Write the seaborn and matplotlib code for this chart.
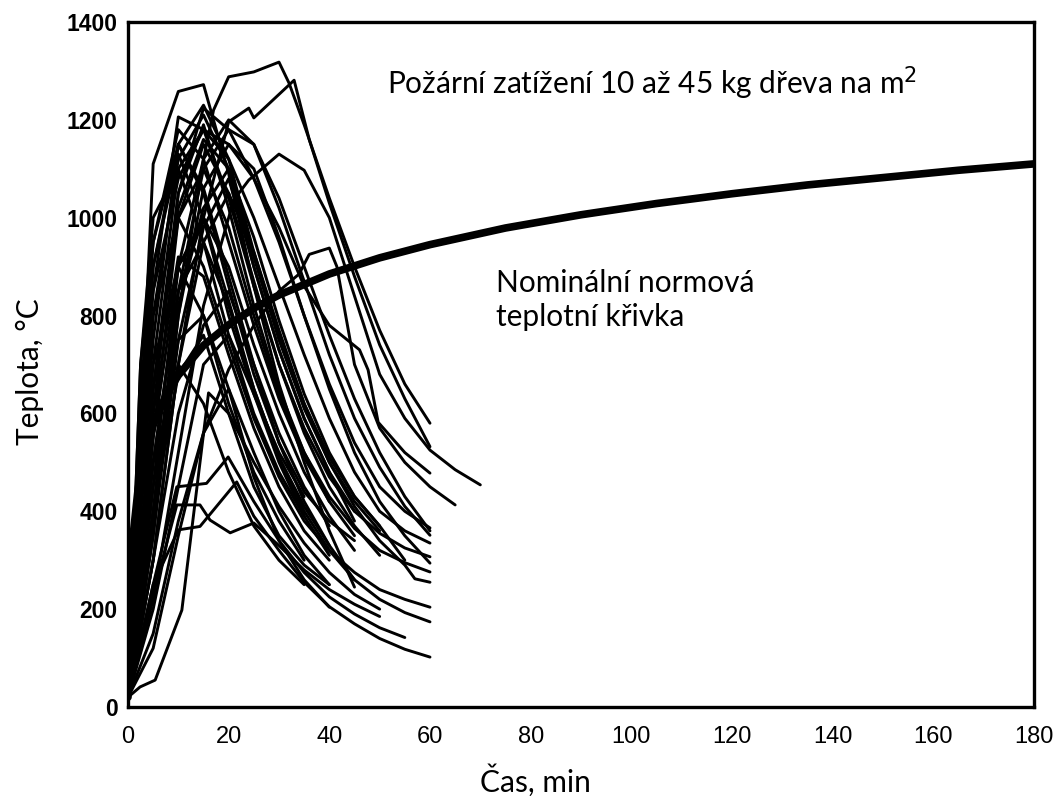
import pandas as pd
import seaborn as sns
import matplotlib.pyplot as plt

# nominal (standard) temperature curve
iso_t = [0, 1, 2, 3, 5, 7.5, 10, 15, 20, 25, 30, 40, 50, 60, 75, 90, 105, 120, 135, 150, 165, 180]
iso_T = [20, 349, 445, 502, 576, 636, 678, 739, 781, 815, 842, 885, 918, 945, 979, 1006, 1029, 1049, 1067, 1082, 1097, 1110]

# measured fire curves (time in min, temperature in deg C)
fire_t = [
    [0, 2, 5, 10, 15, 20, 25, 30, 35, 40, 45],
    [0, 5, 10, 15, 17, 20, 25, 30, 32, 35, 40, 45, 50, 55, 60],
    [0, 5, 10, 15, 20, 24, 25, 33, 36, 40, 45, 50, 55, 60],
    [0, 5, 10, 15, 21, 24, 30, 35, 40, 45, 50, 55, 60, 65, 70],
    [0, 5, 10, 15, 20, 25, 30, 34, 36, 40, 41.5, 45, 50, 55, 60, 65],
    [0, 2.5, 5, 10, 15, 20, 25, 30, 35, 40, 46, 47.7, 49.7, 55, 60],
    [0, 2.5, 5, 10, 15, 20, 25, 30, 35, 40, 45, 50, 55, 60],
    [0, 2.5, 5, 10, 15, 20, 25, 30, 35, 40, 45, 50, 55, 60],
    [0, 5, 10, 15, 20, 25, 30, 35, 40, 45, 50, 55, 60],
    [0, 2.5, 5, 10, 15, 20, 25, 30, 35, 40, 45, 50, 55, 60],
    [0, 5, 10, 15, 20, 25, 30, 35, 40, 45, 50, 55, 60],
    [0, 2.5, 5, 10, 15, 20, 25, 30, 35, 40, 45, 50, 55, 60],
    [0, 5, 10, 15, 20, 25, 30, 35, 40, 45, 50, 55, 57, 60],
    [0, 2.5, 5, 10, 15, 20, 25, 30, 35, 40, 45, 50, 55, 60],
    [0, 5, 10, 15, 20, 25, 30, 35, 40, 45, 50, 55, 60],
    [0, 5, 10, 14.3, 21.6, 25, 30, 35, 40, 45, 50, 55, 60],
    [0, 5, 9.7, 15.6, 19.9, 25, 30, 35, 40, 45, 50, 55],
    [0, 5, 9.7, 14.3, 16.3, 20.3, 25, 30, 35, 40, 45, 50],
    [0, 5, 10, 15, 20, 25, 30, 35, 40],
    [0, 2.4, 5.4, 10.7, 16, 20, 25, 30, 35, 40, 45, 50],
    [0, 2.5, 5, 10, 15, 20, 25, 30, 35, 40],
    [0, 2.5, 5, 10, 15, 20, 25, 30, 35],
    [0, 5, 10, 15, 20, 25, 30, 35, 40, 45],
    [0, 2.5, 5, 10, 15, 20, 25, 30, 35, 40],
    [0, 2.5, 5, 10, 15, 20, 25, 30, 35],
    [0, 5, 10, 15, 20, 25, 30, 35, 40, 45],
    [0, 2.5, 5, 10, 15, 20, 25, 30, 35, 40, 45],
    [0, 5, 10, 15, 20, 25, 30, 35, 40],
    [0, 2.5, 5, 10, 15, 20, 25, 30, 35, 40, 45, 50],
    [0, 2.5, 5, 10, 15, 20, 25, 30, 35],
    [0, 5, 10, 15, 20, 25, 30, 35, 40, 45, 50, 55],
    [0, 5, 10, 15, 20, 25, 30, 35, 40],
    [0, 2.5, 5, 10, 15, 20, 25, 30, 35, 40, 45],
    [0, 2.5, 5, 10, 15, 20, 25, 30, 35, 40],
    [0, 2.5, 5, 10, 15, 20, 25, 30, 35, 40, 45, 50],
    [0, 2.5, 5, 10, 15, 20, 25, 30, 35],
    [0, 5, 10, 15, 20, 25, 30, 35, 40, 45, 50, 55, 60],
    [0, 2.5, 5, 10, 15, 20, 25, 30, 35, 40, 45],
    [0, 2.5, 5, 10, 15, 20, 25, 30, 35, 40],
    [0, 5, 10, 15, 20, 25, 30, 35, 40, 45, 50],
    [0, 2.5, 5, 10, 15, 20, 25, 30, 35, 40, 45],
    [0, 5, 10, 15, 20, 25, 30, 35, 40],
]
fire_T = [
    [20, 450, 1110, 1258, 1272, 1090, 860, 660, 500, 360, 245],
    [20, 350, 800, 1120, 1220, 1288, 1298, 1318, 1275, 1190, 1040, 900, 770, 660, 580],
    [20, 300, 700, 1000, 1196, 1224, 1204, 1281, 1160, 1030, 880, 740, 630, 532],
    [20, 220, 520, 820, 1036, 1077, 1130, 1097, 1000, 840, 680, 590, 525, 485, 454],
    [20, 150, 380, 560, 690, 780, 850, 885, 925, 938, 900, 700, 570, 500, 450, 413],
    [20, 550, 850, 1080, 1180, 1150, 1080, 980, 860, 780, 730, 689, 582, 520, 478],
    [20, 350, 600, 1050, 1224, 1180, 1080, 950, 800, 660, 540, 450, 400, 366],
    [20, 600, 850, 1206, 1180, 1040, 860, 700, 570, 470, 400, 355, 325, 307],
    [20, 450, 900, 1120, 1200, 1150, 1020, 870, 720, 590, 490, 410, 351],
    [20, 450, 700, 1100, 1180, 1120, 1000, 860, 720, 590, 480, 400, 360, 335],
    [20, 380, 800, 1060, 1150, 1100, 960, 800, 650, 520, 420, 350, 294],
    [20, 400, 650, 1000, 1100, 980, 800, 640, 520, 430, 365, 320, 295, 276],
    [20, 300, 700, 950, 1050, 930, 770, 620, 500, 410, 340, 290, 262, 255],
    [20, 500, 800, 1000, 900, 740, 590, 470, 380, 320, 275, 240, 220, 204],
    [20, 500, 850, 950, 820, 650, 510, 400, 320, 260, 220, 193, 174],
    [20, 250, 362, 369, 460, 390, 320, 255, 205, 170, 140, 118, 102],
    [20, 250, 450, 457, 511, 420, 340, 275, 225, 190, 162, 142],
    [20, 230, 413, 413, 382, 356, 376, 330, 280, 240, 210, 185],
    [20, 450, 750, 800, 650, 470, 340, 260, 204],
    [20, 41, 55, 198, 642, 600, 500, 410, 335, 275, 230, 200],
    [20, 400, 650, 1050, 1190, 1020, 820, 650, 520, 420],
    [20, 650, 900, 1130, 1000, 800, 640, 520, 430],
    [20, 350, 750, 980, 1080, 900, 730, 590, 480, 380],
    [20, 350, 550, 900, 1000, 830, 650, 510, 410, 330],
    [20, 450, 700, 900, 800, 620, 480, 380, 300],
    [20, 300, 600, 780, 850, 700, 540, 420, 330, 260],
    [20, 700, 950, 1150, 1050, 860, 680, 540, 440, 380, 340],
    [20, 400, 680, 760, 600, 450, 350, 290, 250],
    [20, 450, 750, 1150, 1230, 1120, 930, 760, 620, 510, 430, 370],
    [20, 300, 500, 700, 620, 480, 370, 300, 250],
    [20, 400, 820, 1020, 1100, 960, 790, 640, 520, 430, 370, 300],
    [20, 120, 350, 560, 650, 520, 400, 310, 250],
    [20, 600, 950, 1180, 1120, 950, 780, 630, 510, 420, 350],
    [20, 500, 900, 1150, 1060, 880, 700, 560, 450, 370],
    [20, 300, 650, 1020, 1160, 1100, 920, 750, 610, 500, 420, 360],
    [20, 700, 1000, 1100, 950, 760, 600, 480, 390],
    [20, 400, 850, 1100, 1180, 1150, 1040, 900, 760, 630, 520, 430, 360],
    [20, 250, 500, 850, 1000, 900, 740, 600, 480, 390, 320],
    [20, 350, 600, 920, 880, 720, 570, 450, 360, 300],
    [20, 550, 1000, 1150, 1050, 870, 700, 560, 450, 370, 310],
    [20, 450, 800, 1120, 1210, 1100, 900, 730, 590, 480, 400],
    [20, 200, 450, 700, 760, 640, 500, 390, 310],
]

x_ticks = [0, 20, 40, 60, 80, 100, 120, 140, 160, 180]
y_ticks = [0, 200, 400, 600, 800, 1000, 1200, 1400]

rows = []
for i, (ts, Ts) in enumerate(zip(fire_t, fire_T)):
    for t, T in zip(ts, Ts):
        rows.append({"curve": i, "t": t, "T": T})
df = pd.DataFrame(rows)

sns.set_style("white")
plt.rcParams["font.family"] = ["Lato", "DejaVu Sans"]
plt.rcParams["text.color"] = "black"
plt.rcParams["axes.labelcolor"] = "black"
plt.rcParams["xtick.color"] = "black"
plt.rcParams["ytick.color"] = "black"

fig = plt.figure(figsize=(10.54, 7.96), dpi=100)
ax = fig.add_axes([128 / 1054, 1 - 707 / 796, 906 / 1054, 685 / 796])

sns.lineplot(data=df, x="t", y="T", units="curve", estimator=None, sort=False,
             color="black", lw=2.1, ax=ax)
sns.lineplot(x=iso_t, y=iso_T, color="black", lw=5.5, ax=ax)

ax.set_xlim(0, 180)
ax.set_ylim(0, 1400)
ax.set_xticks(x_ticks)
ax.set_yticks(y_ticks)
ax.set_xticklabels([str(v) for v in x_ticks], fontfamily="Liberation Sans", fontsize=17)
ax.set_yticklabels([str(v) for v in y_ticks], fontfamily="Liberation Sans", fontsize=16.5,
                   fontweight="bold")
ax.tick_params(axis="both", direction="inout", length=9, width=1.6, colors="black")
ax.tick_params(axis="x", pad=9)
ax.tick_params(axis="y", pad=3)
for s in ax.spines.values():
    s.set_color("black")
    s.set_linewidth(2.4)

ax.set_xlabel("Čas, min", fontsize=21.5)
ax.xaxis.set_label_coords((535 - 128) / 906, (707 - 764) / 685)
ax.set_ylabel("Teplota, °C", fontsize=21.5)
ax.yaxis.set_label_coords((44 - 128) / 906, (707 - 372) / 685)

ax.text(387 / 1054, 1 - 83 / 796, "Požární zatížení 10 až 45 kg dřeva na m$^2$",
        transform=fig.transFigure, fontsize=21.5, va="center", ha="left")
ax.text(496 / 1054, 1 - 300 / 796, "Nominální normová\nteplotní křivka",
        transform=fig.transFigure, fontsize=21.5, va="center", ha="left", linespacing=1.25)

fig.savefig("out.png", dpi=100)
